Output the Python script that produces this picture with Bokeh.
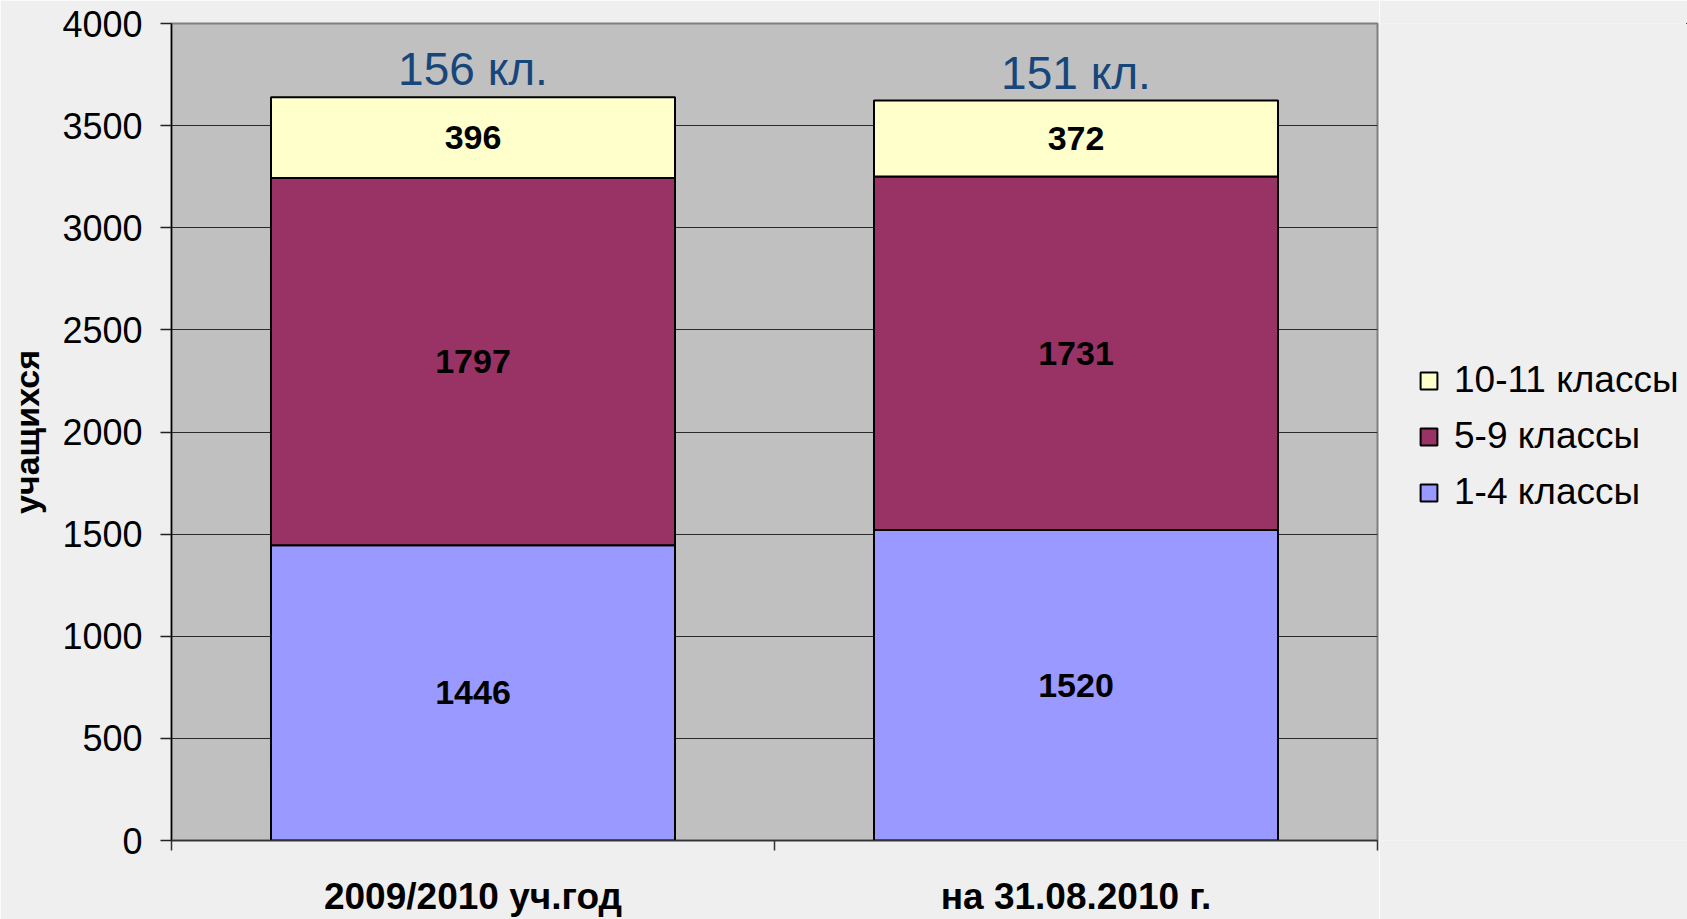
from bokeh.plotting import figure
from bokeh.layouts import row
from bokeh.models import Range1d, FixedTicker, Legend, LegendItem, ColumnDataSource
from bokeh.core.properties import value
from bokeh.embed import file_html
from bokeh.resources import INLINE

# ---- data ----
categories = ["2009/2010 уч.год", "на 31.08.2010 г."]
grades_1_4 = [1446, 1520]
grades_5_9 = [1797, 1731]
grades_10_11 = [396, 372]
class_counts = [156, 151]
series_names = ["1-4 классы", "5-9 классы", "10-11 классы"]
series_colors = ["#9999FF", "#993366", "#FFFFCC"]
y_ticks = [0, 500, 1000, 1500, 2000, 2500, 3000, 3500, 4000]

FONT = "Liberation Sans"
BG = "#EFEFEF"

x_pos = [i + 0.5 for i in range(len(categories))]
boundaries = list(range(len(categories) + 1))

src = ColumnDataSource(dict(x=x_pos, s1=grades_1_4, s2=grades_5_9, s3=grades_10_11))

p = figure(width=1379, height=919,
           x_range=Range1d(0, len(categories)), y_range=Range1d(0, 4000),
           output_backend="svg", toolbar_location=None,
           min_border_left=171, min_border_right=2,
           min_border_top=23, min_border_bottom=76)

p.background_fill_color = "#C0C0C0"
p.border_fill_color = BG
p.outline_line_color = "#808080"
p.outline_line_width = 2

# grid
p.xgrid.grid_line_color = None
p.ygrid.ticker = FixedTicker(ticks=y_ticks)
p.ygrid.grid_line_color = "#2a2a2a"
p.ygrid.grid_line_width = 1.2

# y axis
p.yaxis.ticker = FixedTicker(ticks=y_ticks)
p.yaxis.major_label_text_font = FONT
p.yaxis.major_label_text_font_size = "36px"
p.yaxis.major_label_text_color = "black"
p.yaxis.major_tick_out = 11
p.yaxis.major_tick_in = 0
p.yaxis.major_tick_line_color = "#222222"
p.yaxis.major_tick_line_width = 1.5
p.yaxis.minor_tick_line_color = None
p.yaxis.major_label_standoff = 18
p.yaxis.axis_line_color = "black"
p.yaxis.axis_line_width = 1.5
p.yaxis.axis_label = "учащихся"
p.yaxis.axis_label_text_font = FONT
p.yaxis.axis_label_text_font_style = "bold"
p.yaxis.axis_label_text_font_size = "34px"
p.yaxis.axis_label_text_color = "black"
p.yaxis.axis_label_standoff = 13

# x axis
p.xaxis.ticker = FixedTicker(ticks=x_pos, minor_ticks=boundaries)
p.xaxis.major_label_overrides = {x: c for x, c in zip(x_pos, categories)}
p.xaxis.major_tick_line_color = None
p.xaxis.major_tick_out = 0
p.xaxis.major_tick_in = 0
p.xaxis.minor_tick_out = 10
p.xaxis.minor_tick_in = 0
p.xaxis.minor_tick_line_color = "#333333"
p.xaxis.minor_tick_line_width = 1.5
p.xaxis.axis_line_color = "#333333"
p.xaxis.axis_line_width = 1.5
p.xaxis.major_label_standoff = 25
p.xaxis.major_label_text_font = FONT
p.xaxis.major_label_text_font_style = "bold"
p.xaxis.major_label_text_font_size = "37px"
p.xaxis.major_label_text_color = "black"

# bars
renderers = p.vbar_stack(["s1", "s2", "s3"], x="x", width=0.67, source=src,
                         fill_color=series_colors, line_color="black", line_width=2)

# segment labels
lab_x, lab_y, lab_t = [], [], []
for i in range(len(categories)):
    bottom = 0
    for vals in (grades_1_4, grades_5_9, grades_10_11):
        v = vals[i]
        lab_x.append(x_pos[i])
        lab_y.append(bottom + v / 2)
        lab_t.append(str(v))
        bottom += v
p.text(x=lab_x, y=lab_y, text=lab_t, text_align="center", text_baseline="middle",
       text_font=value(FONT), text_font_style="bold", text_font_size="34px",
       text_color="black")

# total class labels
totals = [a + b + c for a, b, c in zip(grades_1_4, grades_5_9, grades_10_11)]
p.text(x=x_pos, y=totals, text=[f"{n} кл." for n in class_counts],
       text_align="center", text_baseline="middle", y_offset=-28,
       text_font=value(FONT), text_font_size="46px", text_color="#17467A")

# legend panel (separate figure to the right; its bars lie outside its view)
n = len(categories)
lf = figure(width=308, height=919, x_range=Range1d(-3 * n, -2 * n), y_range=Range1d(-2, -1),
            x_axis_type=None, y_axis_type=None, output_backend="svg",
            toolbar_location=None, min_border=0)
lf.background_fill_color = BG
lf.border_fill_color = BG
lf.outline_line_color = None
lf.xgrid.grid_line_color = None
lf.ygrid.grid_line_color = None
leg_renderers = lf.vbar_stack(["s1", "s2", "s3"], x="x", width=0.67, source=src,
                              fill_color=series_colors, line_color="black", line_width=2)
items = [LegendItem(label=series_names[k], renderers=[leg_renderers[k]]) for k in (2, 1, 0)]
legend = Legend(items=items, location=(39, 327), orientation="vertical",
                label_text_font=FONT, label_text_font_size="37px", label_text_color="black",
                glyph_width=21, glyph_height=21, label_standoff=15, spacing=14,
                padding=0, margin=0, border_line_color=None, background_fill_alpha=0)
lf.add_layout(legend)

layout = row(p, lf, spacing=0)
open("out.html", "w").write(file_html(layout, INLINE))
